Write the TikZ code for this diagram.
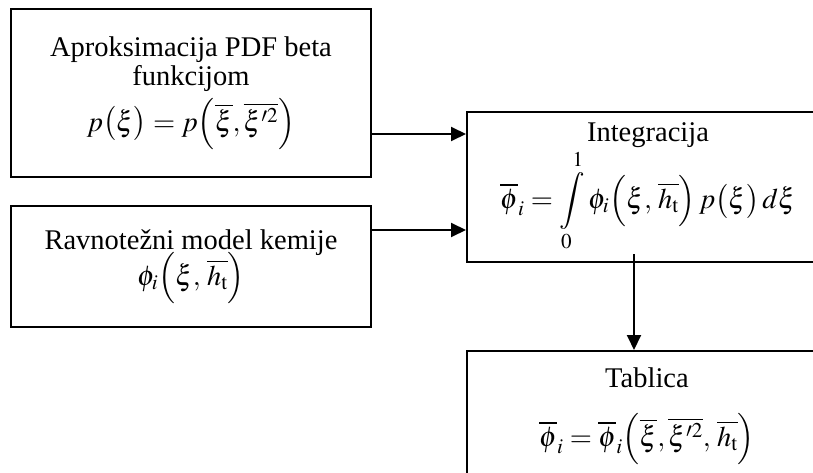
\documentclass[tikz,border=0pt]{standalone}
\usepackage{mathptmx}
\usepackage[no-math]{fontspec}
\setmainfont{Liberation Serif}
\usetikzlibrary{arrows.meta}
\newcommand\boxfontsetup{\fontsize{28.5}{29}\selectfont\setlength{\lineskiplimit}{-100pt}\setlength{\lineskip}{0pt}}
\begin{document}
\begin{tikzpicture}[x=1pt,y=-1pt,
  box/.style={draw, line width=1.9pt, anchor=north west, align=center, inner sep=0pt,
    font=\boxfontsetup},
  arr/.style={line width=1.9pt, -{Triangle[length=15pt,width=14pt]}}]
\useasboundingbox (0,0) rectangle (813,473);
\clip (0,0) rectangle (813,473);
\node[box, minimum width=360pt, minimum height=168pt] (b1) at (10,8)
  {Aproksimacija PDF beta\\ funkcijom\\[17pt]
   $p\bigl(\xi\bigr)=p\Bigl(\overline{\xi},\overline{\xi'^2}\Bigr)$};
\node[box, minimum width=360pt, minimum height=121pt] (b2) at (10,205)
  {Ravnotežni model kemije\\[7pt]
   $\phi_i\Bigl(\xi,\,\overline{h_{\mathrm{t}}}\Bigr)$};
\node[box, minimum width=362pt, minimum height=150pt] (b3) at (466,111)
  {Integracija\\[38pt]
   $\displaystyle\overline{\phi}_i=\int\limits_0^1\phi_i\Bigl(\xi,\,\overline{h_{\mathrm{t}}}\Bigr)\,p\bigl(\xi\bigr)\,d\xi$};
\node[box, minimum width=360pt, minimum height=130pt] (b4) at (466,350)
  {Tablica\\[30pt]
   $\overline{\phi}_i=\overline{\phi}_i\Bigl(\overline{\xi},\overline{\xi'^2},\,\overline{h_{\mathrm{t}}}\Bigr)$};
\coordinate (a1) at (0,134);
\coordinate (a2) at (0,230);
\coordinate (v0) at (634,254);
\draw[arr] (b1.east |- a1) -- (b3.west |- a1);
\draw[arr] (b2.east |- a2) -- (b3.west |- a2);
\draw[arr] (v0) -- (v0 |- b4.north);
\end{tikzpicture}
\end{document}
